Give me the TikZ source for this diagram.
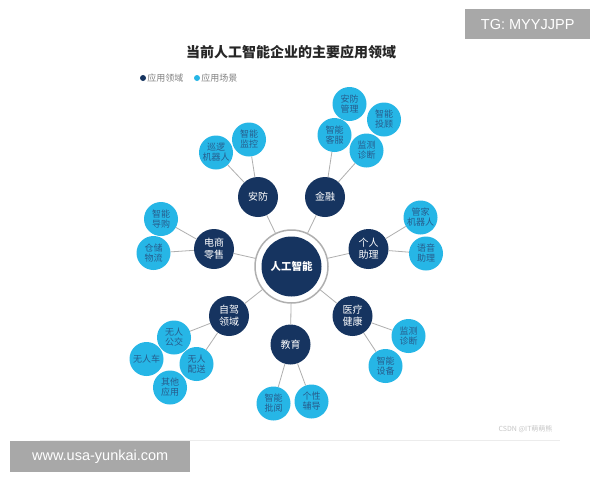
\documentclass[tikz,border=0pt]{standalone}
\usepackage{fontspec}
\setmainfont{Noto Sans CJK SC}
\newfontfamily\wmfont{Liberation Sans}
\definecolor{navy}{RGB}{22,52,96}
\definecolor{cyanb}{RGB}{38,182,230}
\definecolor{scntext}{RGB}{38,92,140}
\definecolor{linkgray}{RGB}{175,175,175}
\definecolor{wmgray}{RGB}{168,168,168}
\begin{document}
\begin{tikzpicture}[x=1pt,y=-1pt,
 dom/.style={circle,fill=navy,text=white,minimum size=40pt,inner sep=0pt,align=center,font=\fontsize{10}{12}\selectfont},
 scn/.style={circle,fill=cyanb,text=scntext,minimum size=34pt,inner sep=0pt,align=center,font=\fontsize{9}{10}\selectfont},
 link/.style={draw=linkgray,line width=0.8pt},
 wm/.style={fill=wmgray,text=white,font=\wmfont\fontsize{14.5}{16}\selectfont,inner sep=0pt,anchor=north west},
 legdot/.style={circle,inner sep=0pt,minimum size=6pt},
 legtxt/.style={anchor=west,text=gray,font=\fontsize{9}{10}\selectfont,inner sep=1pt}]
\useasboundingbox (0,0) rectangle (600,480);
\fill[white] (0,0) rectangle (600,480);
\draw[gray!15,line width=0.8pt] (40,440) -- (560,440);
% title
\node[font=\fontsize{14}{16}\selectfont\bfseries,text=black!85] (title) at (291,52) {当前人工智能企业的主要应用领域};
% legend
\node[legdot,fill=navy] (ld1) at (143,78) {};
\node[legtxt] (lt1) at (ld1.east) {应用领域};
\node[legdot,fill=cyanb] (ld2) at (197,78) {};
\node[legtxt] (lt2) at (ld2.east) {应用场景};
% center
\node[circle,draw=linkgray,line width=1.5pt,fill=white,minimum size=73pt,inner sep=0pt] (ai) at (291.5,266.5) {};
\node[circle,fill=navy,text=white,minimum size=60pt,inner sep=0pt,font=\fontsize{10.5}{12}\selectfont\bfseries] (aic) at (ai) {人工智能};
% domains
\node[dom] (af) at (258,197) {安防};
\node[dom] (jr) at (325,197) {金融};
\node[dom] (ds) at (214,249) {电商\\零售};
\node[dom] (gr) at (368.5,249) {个人\\助理};
\node[dom] (zj) at (229,316) {自驾\\领域};
\node[dom] (jy) at (290.5,344.5) {教育};
\node[dom] (yl) at (352.5,316) {医疗\\健康};
% scenes
\node[scn] (xl) at (216,152.5) {巡逻\\机器人};
\node[scn] (jk) at (249,139.5) {智能\\监控};
\node[scn] (afgl) at (349.5,104) {安防\\管理};
\node[scn] (tg) at (384,119.5) {智能\\投顾};
\node[scn] (kf) at (334.5,135) {智能\\客服};
\node[scn] (jc1) at (366.5,150.5) {监测\\诊断};
\node[scn] (dg) at (161,219) {智能\\导购};
\node[scn] (cc) at (153.5,253) {仓储\\物流};
\node[scn] (gj) at (420.5,217.5) {管家\\机器人};
\node[scn] (yy) at (426,253.5) {语音\\助理};
\node[scn] (gjc) at (174,337.5) {无人\\公交};
\node[scn] (wrc) at (146.5,359) {无人车};
\node[scn] (ps) at (196.5,364) {无人\\配送};
\node[scn] (qt) at (170,387.5) {其他\\应用};
\node[scn] (py) at (273.5,403.5) {智能\\批阅};
\node[scn] (fd) at (311.5,401.5) {个性\\辅导};
\node[scn] (jc2) at (408.5,336) {监测\\诊断};
\node[scn] (sb) at (385.5,366) {智能\\设备};
% links
\foreach \d in {af,jr,ds,gr,zj,jy,yl} \draw[link] (ai) -- (\d);
\draw[link] (af) -- (xl);
\draw[link] (af) -- (jk);
\draw[link] (jr) -- (kf);
\draw[link] (jr) -- (jc1);
\draw[link] (ds) -- (dg);
\draw[link] (ds) -- (cc);
\draw[link] (gr) -- (gj);
\draw[link] (gr) -- (yy);
\draw[link] (zj) -- (gjc);
\draw[link] (zj) -- (ps);
\draw[link] (jy) -- (py);
\draw[link] (jy) -- (fd);
\draw[link] (yl) -- (jc2);
\draw[link] (yl) -- (sb);
% watermarks
\node[text=gray!45,font=\fontsize{7}{8}\selectfont,anchor=east] (csdn) at (556,429) {CSDN @IT萌萌熊};
\node[wm,minimum width=125pt,minimum height=30pt] (tgm) at (465,9) {TG: MYYJJPP};
\node[wm,minimum width=180pt,minimum height=31pt] (www) at (10,441) {www.usa-yunkai.com};
\end{tikzpicture}
\end{document}
